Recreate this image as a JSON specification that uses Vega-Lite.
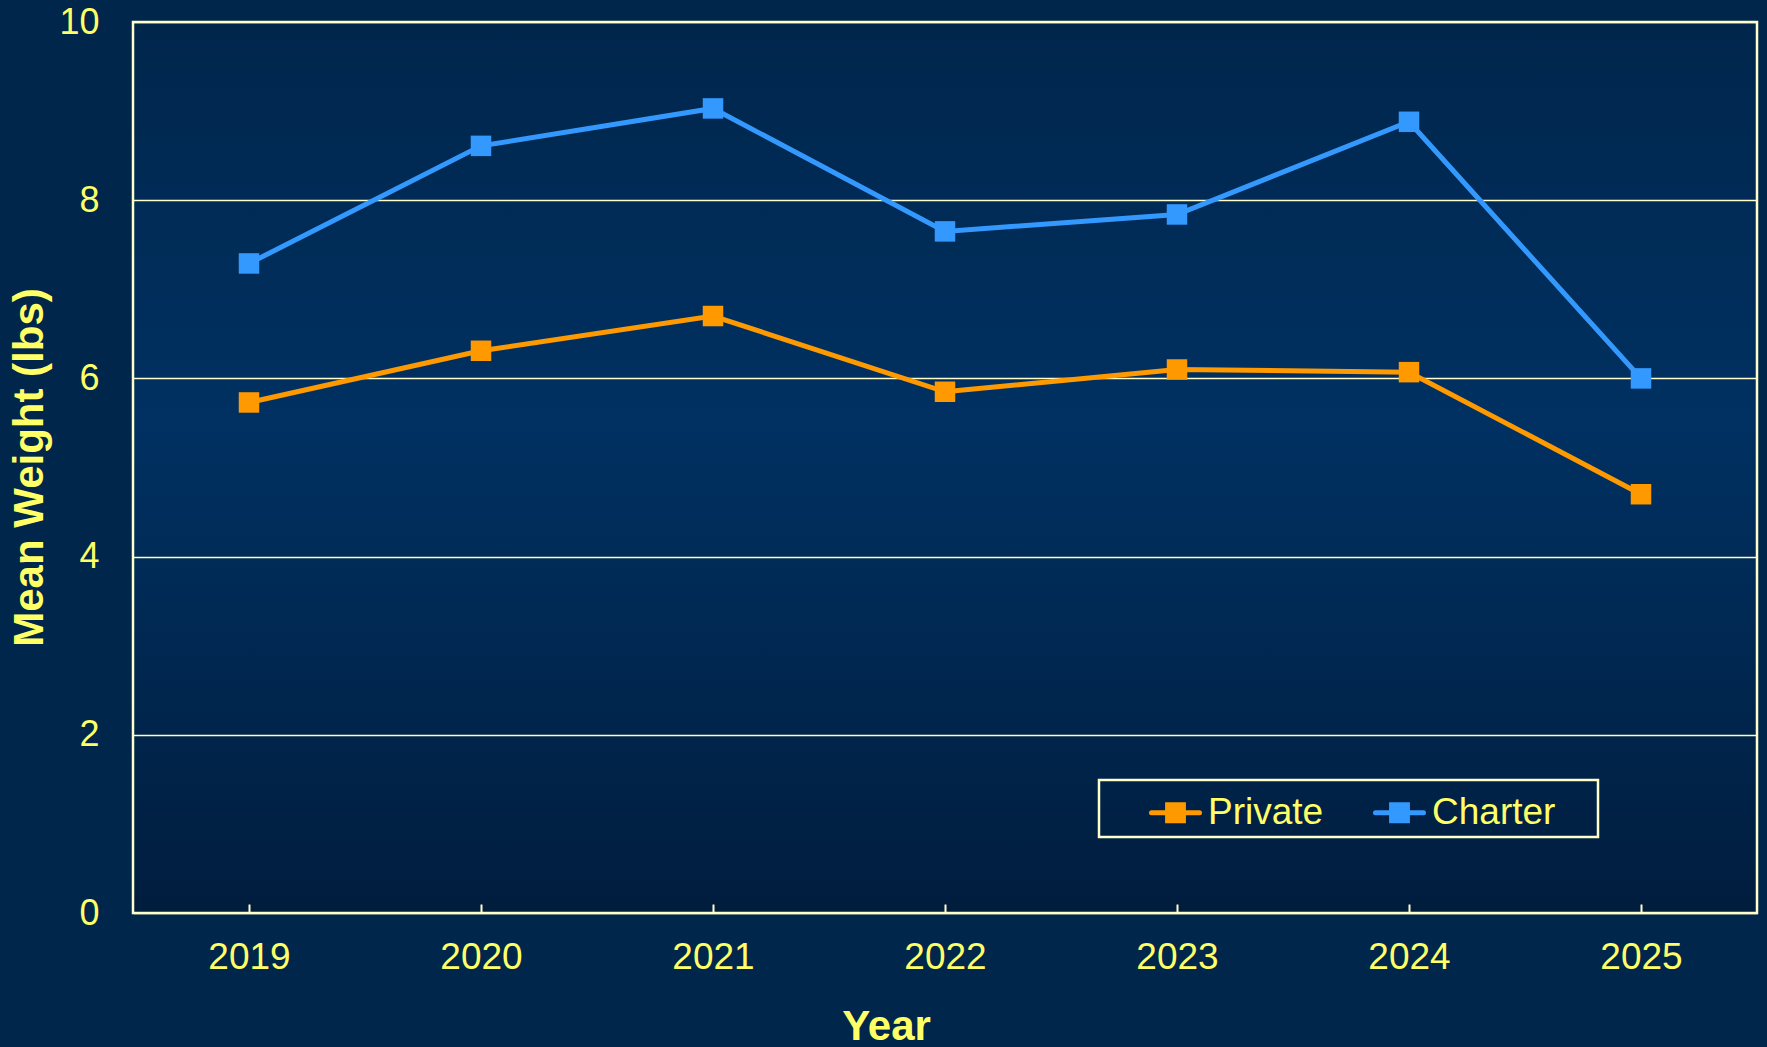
{
  "$schema": "https://vega.github.io/schema/vega-lite/v6.json",
  "width": 1624,
  "height": 891,
  "autosize": {"type": "none"},
  "padding": {"left": 133, "top": 22, "right": 10, "bottom": 134},
  "background": "#00264b",
  "config": {
    "font": "Liberation Sans",
    "view": {
      "stroke": "#FFFFCC",
      "strokeWidth": 2.5,
      "fill": {
        "gradient": "linear",
        "x1": 0, "y1": 0, "x2": 0, "y2": 1,
        "stops": [
          {"offset": 0, "color": "#00264c"},
          {"offset": 0.45, "color": "#003162"},
          {"offset": 1, "color": "#001d3e"}
        ]
      }
    }
  },
  "data": {
    "values": [
      {"year": "2019", "type": "Private", "weight": 5.73},
      {"year": "2020", "type": "Private", "weight": 6.31},
      {"year": "2021", "type": "Private", "weight": 6.70},
      {"year": "2022", "type": "Private", "weight": 5.85},
      {"year": "2023", "type": "Private", "weight": 6.10},
      {"year": "2024", "type": "Private", "weight": 6.07},
      {"year": "2025", "type": "Private", "weight": 4.70},
      {"year": "2019", "type": "Charter", "weight": 7.29},
      {"year": "2020", "type": "Charter", "weight": 8.61},
      {"year": "2021", "type": "Charter", "weight": 9.03},
      {"year": "2022", "type": "Charter", "weight": 7.65},
      {"year": "2023", "type": "Charter", "weight": 7.84},
      {"year": "2024", "type": "Charter", "weight": 8.88},
      {"year": "2025", "type": "Charter", "weight": 6.00}
    ]
  },
  "mark": {
    "type": "line",
    "strokeWidth": 5,
    "point": {"shape": "square", "filled": true, "size": 420, "opacity": 1}
  },
  "encoding": {
    "x": {
      "field": "year",
      "type": "ordinal",
      "scale": {"type": "point", "padding": 0.5},
      "axis": {
        "title": "Year",
        "titleFont": "Liberation Sans",
        "titleFontSize": 42,
        "titleFontWeight": "bold",
        "titleColor": "#FFFF66",
        "titleX": 753,
        "titleY": 113,
        "titleAlign": "center",
        "titleBaseline": "middle",
        "labelAngle": 0,
        "labelFontSize": 37,
        "labelColor": "#FFFF66",
        "labelBaseline": "middle",
        "tickSize": -9,
        "tickColor": "#FFFFCC",
        "tickWidth": 2,
        "labelPadding": 53,
        "domain": false,
        "grid": false
      }
    },
    "y": {
      "field": "weight",
      "type": "quantitative",
      "scale": {"domain": [0, 10]},
      "axis": {
        "title": "Mean Weight (lbs)",
        "titleFontSize": 42,
        "titleFontWeight": "bold",
        "titleColor": "#FFFF66",
        "titleAngle": -90,
        "titleX": -104,
        "titleY": 445,
        "titleAlign": "center",
        "titleBaseline": "middle",
        "values": [0, 2, 4, 6, 8, 10],
        "labelFontSize": 36,
        "labelColor": "#FFFF66",
        "ticks": false,
        "tickSize": 0,
        "labelPadding": 34,
        "domain": false,
        "grid": true,
        "gridColor": "#FFFFCC",
        "gridWidth": 1.5,
        "gridOpacity": 1
      }
    },
    "color": {
      "field": "type",
      "type": "nominal",
      "scale": {"domain": ["Private", "Charter"], "range": ["#FF9900", "#3399FF"]},
      "legend": {
        "title": " ",
        "titleOrient": "right",
        "titlePadding": 37,
        "titleFontSize": 37,
        "orient": "none",
        "legendX": 966,
        "legendY": 758,
        "direction": "horizontal",
        "padding": 6,
        "strokeColor": "#FFFFCC",
        "labelFontSize": 37,
        "labelColor": "#FFFF66",
        "labelOffset": 6,
        "columnPadding": 5,
        "symbolType": "M-1,0H1M-0.33,-0.33H0.33V0.33H-0.33Z",
        "symbolSize": 2304,
        "symbolStrokeWidth": 5,
        "symbolOffset": 44,
        "symbolOpacity": 1,
        "encode": {
          "symbols": {
            "update": {
              "fill": {"scale": "color", "field": "value"},
              "stroke": {"scale": "color", "field": "value"},
              "strokeCap": {"value": "round"}
            }
          },
          "legend": {"update": {"strokeWidth": {"value": 2.5}}}
        }
      }
    }
  }
}
